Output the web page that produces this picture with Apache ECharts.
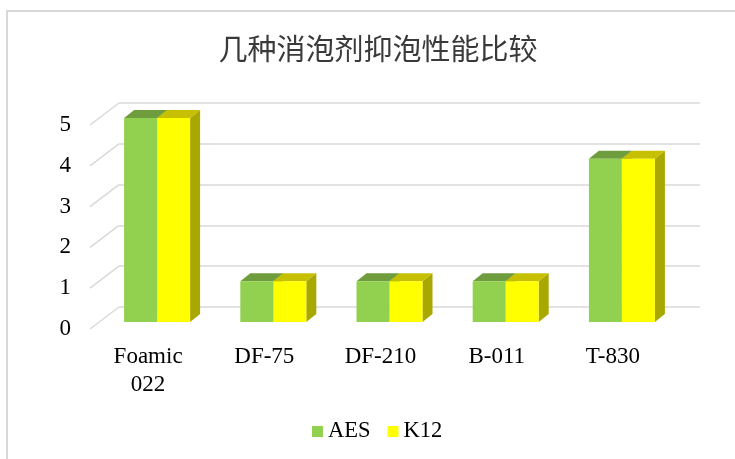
<!DOCTYPE html>
<html>
<head>
<meta charset="utf-8">
<script src="https://cdn.jsdelivr.net/npm/echarts@6/dist/echarts.min.js"></script>
<style>html,body{margin:0;padding:0;background:#fff}#c{width:735px;height:459px}</style>
</head>
<body>
<div id="c"></div>
<script>
const categories = ['Foamic\n022', 'DF-75', 'DF-210', 'B-011', 'T-830'];
const seriesNames = ['AES', 'K12'];
const aesValues = [5, 1, 1, 1, 4];
const k12Values = [5, 1, 1, 1, 4];
const tickValues = [0, 1, 2, 3, 4, 5];

const DX = 10, DY = 8;          // bar depth offset (px)
const WALL_DX = 29, WALL_DY = 22; // floor depth offset (px)
const BAR_FRAC = 0.284;          // bar width / category band
const serif = 'Liberation Serif';
const gridColor = '#d9d9d9';

function barRender(idx, front, topC, side) {
  return function (params, api) {
    const cat = api.value(0), v = api.value(1);
    const base = api.coord([cat, 0]);
    const top = api.coord([cat, v]);
    const band = api.size([1, 0])[0];
    const bw = band * BAR_FRAC;
    const x0 = top[0] - bw + idx * bw;
    const h = base[1] - top[1];
    return {
      type: 'group',
      children: [
        { type: 'polygon', shape: { points: [[x0 + bw, top[1]], [x0 + bw + DX, top[1] - DY], [x0 + bw + DX, base[1] - DY], [x0 + bw, base[1]]] }, style: { fill: side } },
        { type: 'polygon', shape: { points: [[x0, top[1]], [x0 + bw, top[1]], [x0 + bw + DX, top[1] - DY], [x0 + DX, top[1] - DY]] }, style: { fill: topC } },
        { type: 'rect', shape: { x: x0, y: top[1], width: bw, height: h }, style: { fill: front } }
      ]
    };
  };
}

const chart = echarts.init(document.getElementById('c'));
chart.setOption({
  animation: false,
  backgroundColor: '#fff',
  title: {
    text: '几种消泡剂抑泡性能比较',
    left: 373, top: 29, textAlign: 'center',
    textStyle: { fontFamily: 'Noto Sans CJK SC', fontSize: 29, fontWeight: 'normal', color: '#3a3a3a' }
  },
  legend: {
    data: seriesNames,
    left: 307, top: 415,
    itemWidth: 11, itemHeight: 11, itemGap: 17,
    icon: 'rect',
    textStyle: { fontFamily: serif, fontSize: 22.5, color: '#000' }
  },
  graphic: [
    { type: 'line', shape: { x1: 7, y1: 11, x2: 7, y2: 459 }, style: { stroke: gridColor, lineWidth: 2 } },
    { type: 'line', shape: { x1: 6, y1: 11, x2: 735, y2: 11 }, style: { stroke: gridColor, lineWidth: 2 } }
  ],
  grid: [
    { left: 90, right: 64, top: 125, bottom: 130 },   // floor front (labels)
    { left: 99, right: 55, top: 118, bottom: 137 },   // bar front plane
    { left: 119, right: 35, top: 103, bottom: 152 }   // back wall
  ],
  xAxis: [
    { type: 'category', gridIndex: 0, data: categories, axisLine: { show: false }, axisTick: { show: false },
      axisLabel: { margin: 14, fontFamily: serif, fontSize: 23, color: '#000', lineHeight: 28, interval: 0 } },
    { type: 'category', gridIndex: 1, data: categories, show: false },
    { type: 'category', gridIndex: 2, data: categories, show: false }
  ],
  yAxis: [
    { type: 'value', gridIndex: 0, min: 0, max: 5, interval: 1, axisLine: { show: false }, axisTick: { show: false },
      splitLine: { show: false }, axisLabel: { margin: 19, fontFamily: serif, fontSize: 23, color: '#000' } },
    { type: 'value', gridIndex: 1, min: 0, max: 5, interval: 1, show: false },
    { type: 'value', gridIndex: 2, min: 0, max: 5, interval: 1, axisLine: { show: false }, axisTick: { show: false },
      axisLabel: { show: false }, splitLine: { show: true, lineStyle: { color: gridColor, width: 1.5 } } }
  ],
  series: [
    {
      type: 'custom', name: 'diag', xAxisIndex: 0, yAxisIndex: 0, silent: true,
      data: tickValues.map(v => [0, v]),
      renderItem: function (params, api) {
        const p = api.coord([0, api.value(1)]);
        const band = api.size([1, 0])[0];
        const left = p[0] - band / 2;
        return { type: 'line', shape: { x1: left, y1: p[1], x2: left + WALL_DX, y2: p[1] - WALL_DY },
                 style: { stroke: gridColor, lineWidth: 1.5 } };
      }
    },
    {
      type: 'custom', name: 'AES', xAxisIndex: 1, yAxisIndex: 1,
      itemStyle: { color: '#92D050' },
      data: aesValues.map((v, i) => [i, v]),
      renderItem: barRender(0, '#92D050', '#6F9D3E', '#6F9D3E')
    },
    {
      type: 'custom', name: 'K12', xAxisIndex: 1, yAxisIndex: 1,
      itemStyle: { color: '#FFFF00' },
      data: k12Values.map((v, i) => [i, v]),
      renderItem: barRender(1, '#FFFF00', '#C6C000', '#A8A800')
    }
  ]
});
</script>
</body>
</html>
